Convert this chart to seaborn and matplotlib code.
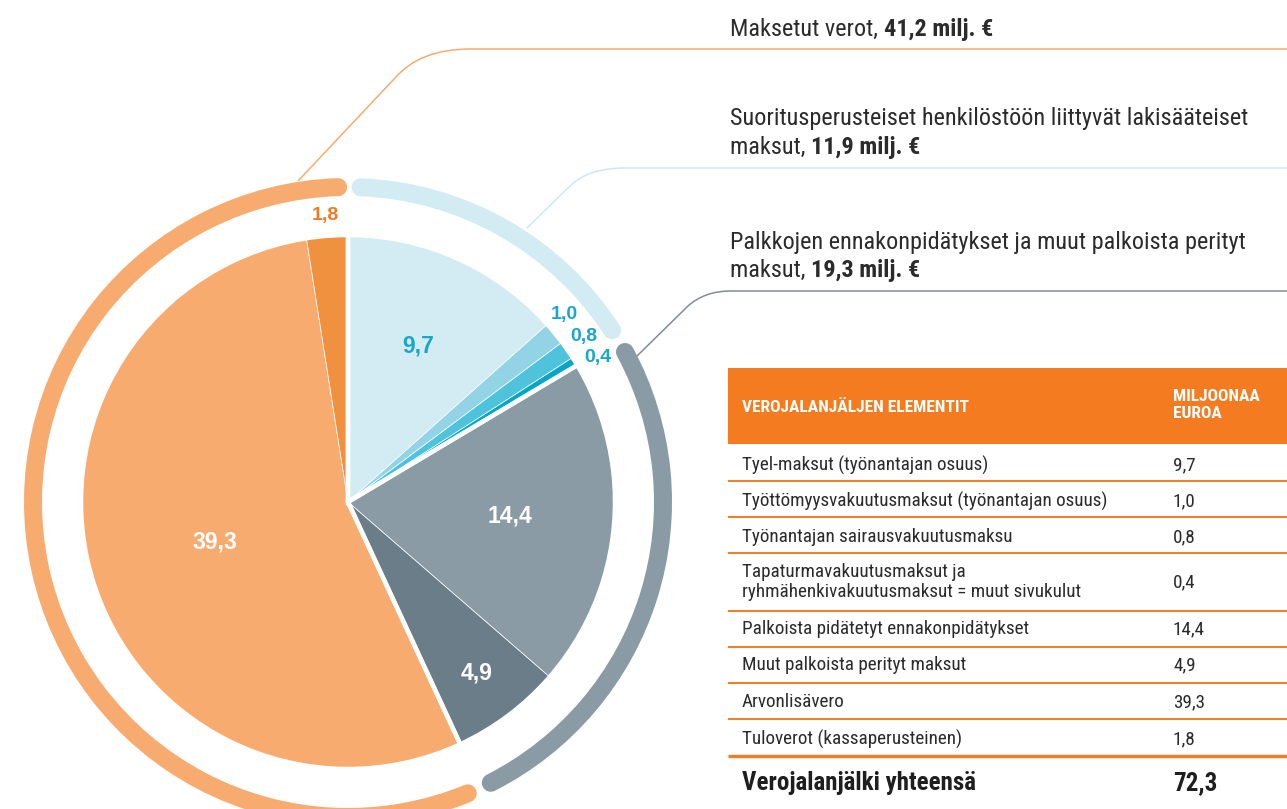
import numpy as np
import matplotlib
matplotlib.use("Agg")
import matplotlib.pyplot as plt
import seaborn as sns
from matplotlib import font_manager as fm
from matplotlib.patches import Arc, Rectangle, PathPatch
from matplotlib.path import Path

# ---------------- data ----------------
slice_labels = ["Tyel-maksut (työnantajan osuus)",
                "Työttömyysvakuutusmaksut (työnantajan osuus)",
                "Työnantajan sairausvakuutusmaksu",
                "Tapaturmavakuutusmaksut ja\nryhmähenkivakuutusmaksut = muut sivukulut",
                "Palkoista pidätetyt ennakonpidätykset",
                "Muut palkoista perityt maksut",
                "Arvonlisävero",
                "Tuloverot (kassaperusteinen)"]
slice_values = [9.7, 1.0, 0.8, 0.4, 14.4, 4.9, 39.3, 1.8]
slice_colors = ["#d3ecf3", "#93d3e6", "#4fc3dc", "#05a6c9",
                "#8a9ba6", "#6b7d88", "#f8ab6f", "#f0913f"]
group_names = ["Suoritusperusteiset henkilöstöön liittyvät lakisääteiset\nmaksut",
               "Palkkojen ennakonpidätykset ja muut palkoista perityt\nmaksut",
               "Maksetut verot"]
group_values = [11.9, 19.3, 41.2]
group_colors = ["#d3ecf3", "#8a9ba6", "#f8ab6f"]
total_label = "Verojalanjälki yhteensä"
total_value = 72.3
header_left = "VEROJALANJÄLJEN ELEMENTIT"
header_right = "MILJOONAA\nEUROA"

def fi(v):
    return f"{v:.1f}".replace(".", ",")

# ---------------- fonts ----------------
sns.set_theme(style="white")
names = {f.name for f in fm.fontManager.ttflist}
cond = None
for cand in ["Roboto Condensed", "Liberation Sans Narrow", "Open Sans Condensed",
             "DejaVu Sans Condensed", "Noto Sans Condensed"]:
    if cand in names:
        cond = cand
        break
if cond is None:
    cond = "Liberation Sans"
plt.rcParams["font.family"] = ["Liberation Sans", "DejaVu Sans"]
COND = [cond, "DejaVu Sans"]

# ---------------- figure ----------------
W, H = 1287, 809
fig = plt.figure(figsize=(W / 100, H / 100), dpi=100)
ax = fig.add_axes([0, 0, 1, 1])

def Y(y):  # image y -> data y
    return H - y

cx, cy = 348, Y(502)
R = 267
total = sum(slice_values)

# base pie
ax.pie(slice_values, colors=slice_colors, startangle=90, counterclock=False,
       center=(cx, cy), radius=R, frame=True,
       wedgeprops=dict(linewidth=0.5, edgecolor="white"))
# group separators (white gaps between groups)
ax.pie(group_values, colors=["none"] * 3, startangle=90, counterclock=False,
       center=(cx, cy), radius=R, frame=True,
       wedgeprops=dict(linewidth=3.2, edgecolor="white", facecolor="none"))

# outer ring arcs with round caps
Rr = 315
ring_lw_px = 18
gap_deg = 2.3
cum = 0.0
for v, c in zip(group_values, group_colors):
    a0 = 360 * cum / total
    a1 = 360 * (cum + v) / total
    t1 = 90 - a1 + gap_deg
    t2 = 90 - a0 - gap_deg
    arc = Arc((cx, cy), 2 * Rr, 2 * Rr, angle=0, theta1=t1, theta2=t2,
              color=c, linewidth=ring_lw_px * 0.72, capstyle="round", zorder=3)
    ax.add_patch(arc)
    cum += v

# slice labels
dists = [0.64, 1.073, 1.078, 1.08, 0.61, 0.80, 0.52, 1.075]
ang_off = [0, -1.8, -0.3, 1.7, 0, 0, 0, 0]
lab_colors = ["#1aa6c9", "#1aa6c9", "#1aa6c9", "#1aa6c9",
              "white", "white", "white", "#f07b22"]
lab_sizes = [16.5, 14, 14, 14, 16.5, 16.5, 16.5, 14]
cum = 0.0
for v, d, o, c, s in zip(slice_values, dists, ang_off, lab_colors, lab_sizes):
    th = np.deg2rad(90 - 360 * (cum + v / 2) / total - o)
    ax.text(cx + R * d * np.cos(th), cy + R * d * np.sin(th), fi(v),
            ha="center", va="center", color=c, fontsize=s, fontweight="bold", zorder=5)
    cum += v

# connector lines
def connector(pts, color):
    (x0, y0), (x1, y1), (xc, yc), (x2, y2), (x3, y3) = pts
    verts = [(x0, Y(y0)), (x1, Y(y1)), (xc, Y(yc)), (x2, Y(y2)), (x3, Y(y3))]
    codes = [Path.MOVETO, Path.LINETO, Path.CURVE3, Path.CURVE3, Path.LINETO]
    ax.add_patch(PathPatch(Path(verts, codes), facecolor="none", edgecolor=color,
                           linewidth=1.1, zorder=2))

connector([(298, 181), (395, 78), (420, 49), (470, 49), (W + 5, 49)], "#f8ab6f")
connector([(527, 228), (570, 186), (588, 168), (625, 168), (W + 5, 168)], "#cde8f1")
connector([(637, 356), (688, 306), (705, 291), (730, 291), (W + 5, 291)], "#7d8e99")

# group texts (regular + bold)
txt_col = "#2b2b2b"
GS = 17.5
def rich(x, y, normal, bold, size=GS):
    t = ax.text(x, Y(y), normal, ha="left", va="bottom", fontsize=size,
                family=COND, color=txt_col)
    ax.annotate(bold, xy=(1, 0), xycoords=t, ha="left", va="bottom",
                fontsize=size, family=COND, fontweight="bold", color=txt_col)

rich(730, 41, "Maksetut verot, ", f"{fi(group_values[2])} milj. €")
ax.text(730, Y(130), group_names[0].split("\n")[0], ha="left", va="bottom",
        fontsize=GS, family=COND, color=txt_col)
rich(730, 159, "maksut, ", f"{fi(group_values[0])} milj. €")
ax.text(730, Y(254), group_names[1].split("\n")[0], ha="left", va="bottom",
        fontsize=GS, family=COND, color=txt_col)
rich(730, 282, "maksut, ", f"{fi(group_values[1])} milj. €")

# ---------------- table ----------------
orange = "#f47b20"
tx0, tx1 = 728, W
ax.add_patch(Rectangle((tx0, Y(444)), tx1 - tx0, 444 - 368, facecolor=orange,
                       edgecolor="none", zorder=2))
ax.text(742, Y(407), header_left, ha="left", va="center", fontsize=12.5,
        family=COND, fontweight="bold", color="white")
ax.text(1173, Y(405), header_right, ha="left", va="center", fontsize=12.5,
        family=COND, fontweight="bold", color="white", linespacing=1.15)

seps = [481, 517, 553, 611, 647, 683, 719]
for s in seps:
    ax.plot([tx0, tx1], [Y(s), Y(s)], color=orange, linewidth=1.4, solid_capstyle="butt")
ax.plot([tx0, tx1], [Y(756), Y(756)], color=orange, linewidth=2.4, solid_capstyle="butt")

TS = 13.8
row_y = [465, 501, 537, 582, 629, 665, 702, 739]
for lab, v, yy in zip(slice_labels, slice_values, row_y):
    ax.text(742, Y(yy), lab, ha="left", va="center", fontsize=TS,
            family=COND, color=txt_col, linespacing=1.15)
    ax.text(1173, Y(yy), fi(v), ha="left", va="center", fontsize=TS,
            family=COND, color=txt_col)

ax.text(742, Y(783), total_label, ha="left", va="center", fontsize=18,
        family=COND, fontweight="bold", color="#1e1e1e")
ax.text(1173, Y(783), fi(total_value), ha="left", va="center", fontsize=18,
        family=COND, fontweight="bold", color="#1e1e1e")

ax.set_xlim(0, W)
ax.set_ylim(0, H)
ax.set_aspect("auto")
ax.axis("off")
fig.savefig("out.png", dpi=100)
